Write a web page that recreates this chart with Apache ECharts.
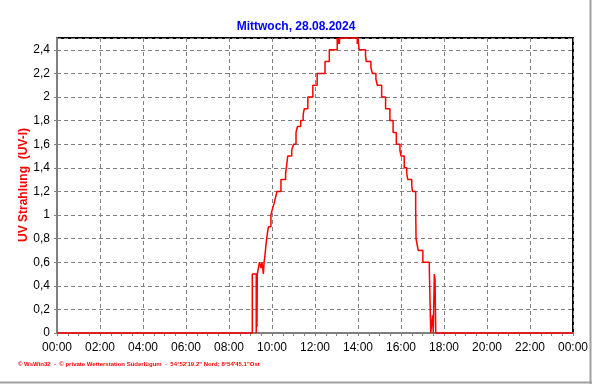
<!DOCTYPE html>
<html>
<head>
<meta charset="utf-8">
<script src="https://cdn.jsdelivr.net/npm/echarts@6/dist/echarts.min.js"></script>
<style>
html,body{margin:0;padding:0;background:#fff;}
#c{width:592px;height:384px;}
</style>
</head>
<body>
<div id="c"></div>
<script>
// time of day in minutes, value changes at that minute (step chart)
const times = [0, 545, 556, 557, 558, 559, 562, 565, 569, 572, 576, 578, 580, 585, 590, 597, 601, 606, 610, 614, 618, 625, 638, 640, 644, 655, 660, 667, 671, 680, 687, 690, 700, 714, 726, 748, 760, 782, 784, 786, 788, 789, 838, 840, 843, 861, 863, 876, 880, 890, 894, 906, 917, 929, 938, 947, 957, 960, 969, 976, 979, 990, 992, 1001, 1002, 1005, 1008, 1021, 1039, 1043, 1048, 1050, 1053, 1055, 1057, 1440];
const uvValues = [0, 0.5, 0, 0.5, 0.05, 0.5, 0.55, 0.6, 0.55, 0.6, 0.5, 0.6, 0.65, 0.8, 0.9, 1.0, 1.05, 1.1, 1.15, 1.2, 1.2, 1.3, 1.35, 1.4, 1.5, 1.55, 1.6, 1.7, 1.75, 1.8, 1.85, 1.9, 2.0, 2.1, 2.2, 2.3, 2.4, 2.5, 2.45, 2.5, 2.45, 2.5, 2.45, 2.5, 2.4, 2.35, 2.3, 2.25, 2.2, 2.15, 2.1, 2.0, 1.9, 1.8, 1.7, 1.6, 1.55, 1.5, 1.4, 1.35, 1.3, 1.25, 1.2, 1.05, 0.8, 0.75, 0.7, 0.6, 0.55, 0, 0.15, 0, 0.5, 0.45, 0, 0];
const titleText = 'Mittwoch, 28.08.2024';
const yAxisName = 'UV Strahlung  (UV-I)';
const footerText = '\u00A9 WsWin32  -  \u00A9 private Wetterstation S\u00FCderl\u00FCgum  -  54\u00B052\'19.2" Nord; 8\u00B054\'45.1"Ost';

const data = times.map((t, i) => [t, uvValues[i]]);
const pad = n => (n < 10 ? '0' : '') + n;

const chart = echarts.init(document.getElementById('c'), null, {renderer: 'canvas'});
chart.setOption({
  animation: false,
  backgroundColor: '#fff',
  title: {
    text: titleText,
    left: 'center',
    top: 16,
    textStyle: {color: '#0000ff', fontSize: 12, fontWeight: 'bold', fontFamily: 'Liberation Sans'}
  },
  grid: {
    left: 57, right: 19, top: 38, bottom: 51,
    show: true, borderColor: '#000', borderWidth: 2, backgroundColor: 'transparent'
  },
  xAxis: {
    type: 'value', min: 0, max: 1440, interval: 120,
    axisLine: {show: true, onZero: false, lineStyle: {color: '#808080', width: 2}},
    axisTick: {show: true, length: 3, lineStyle: {color: '#808080'}},
    minorTick: {show: true, splitNumber: 4, length: 3, lineStyle: {color: '#808080'}},
    axisLabel: {
      color: '#000', fontSize: 12, fontFamily: 'Liberation Sans', margin: 9,
      showMinLabel: true, showMaxLabel: true,
      formatter: v => pad(Math.round(v / 60) % 24) + ':00'
    },
    splitLine: {show: true, lineStyle: {color: '#808080', type: [4, 3], width: 1}}
  },
  yAxis: {
    type: 'value', min: 0, max: 2.5, interval: 0.2,
    axisLine: {show: true, lineStyle: {color: '#808080', width: 2}},
    axisTick: {show: true, length: 3, lineStyle: {color: '#808080'}},
    axisLabel: {
      color: '#000', fontSize: 12, fontFamily: 'Liberation Sans', margin: 7,
      showMaxLabel: false,
      formatter: v => String(Math.round(v * 10) / 10).replace('.', ',')
    },
    splitLine: {show: true, lineStyle: {color: '#808080', type: [4, 3], width: 1}}
  },
  series: [{
    type: 'line',
    data: data,
    step: 'end',
    showSymbol: false,
    clip: false,
    z: 10,
    lineStyle: {color: '#ff0000', width: 1.5}
  }],
  graphic: [
    {type: 'text', x: 24, y: 185, rotation: Math.PI / 2, z: 20,
     style: {text: yAxisName, fill: '#ff0000', fontSize: 12, fontWeight: 'bold', fontFamily: 'Liberation Sans',
             align: 'center', verticalAlign: 'middle'}},
    {type: 'text', left: 18, top: 361, z: 20,
     style: {text: footerText, fill: '#ff0000', fontSize: 6, fontWeight: 'bold', fontFamily: 'Liberation Sans'}},
    {type: 'line', shape: {x1: 590.5, y1: 0, x2: 590.5, y2: 384}, style: {stroke: '#a0a0a0', lineWidth: 2}},
    {type: 'line', shape: {x1: 0, y1: 382.5, x2: 592, y2: 382.5}, style: {stroke: '#a0a0a0', lineWidth: 2}}
  ]
});
</script>
</body>
</html>
